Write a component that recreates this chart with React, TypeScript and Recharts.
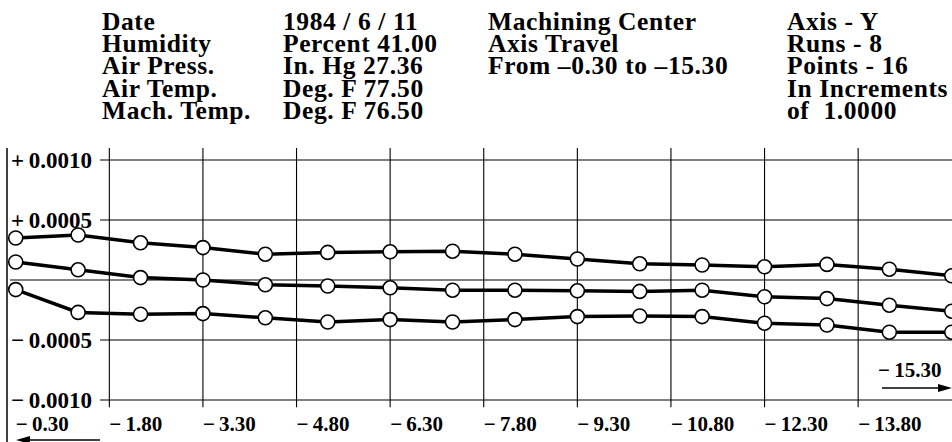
import React from "react"
import { LineChart, Line, XAxis, YAxis, ReferenceLine } from "recharts"

// axis travel positions (16 points, 1.0 apart)
const TRAVEL = [-0.3, -1.3, -2.3, -3.3, -4.3, -5.3, -6.3, -7.3, -8.3, -9.3, -10.3, -11.3, -12.3, -13.3, -14.3, -15.3]

// deviation per run (inches)
const RUN_UPPER = [0.00035, 0.000375, 0.00031, 0.00027, 0.000215, 0.00023, 0.000235, 0.00024, 0.000215, 0.000175, 0.000135, 0.000125, 0.00011, 0.00013, 0.00009, 0.000035]
const RUN_MIDDLE = [0.00015, 0.000085, 0.00002, 0, -0.00004, -0.00005, -0.000065, -0.000085, -0.000085, -0.00009, -0.000095, -0.000085, -0.00014, -0.000155, -0.00021, -0.00026]
const RUN_LOWER = [-0.00008, -0.00027, -0.000285, -0.00028, -0.000315, -0.00035, -0.00033, -0.00035, -0.00033, -0.000305, -0.0003, -0.000305, -0.00036, -0.000375, -0.000435, -0.000435]

const X_GRID = [-1.8, -3.3, -4.8, -6.3, -7.8, -9.3, -10.8, -12.3, -13.8]
const X_TICKS = [-0.3, ...X_GRID]
const Y_GRID = [0.001, 0.0005, -0.0005, -0.001]

const HEADER_LABELS = ["Date", "Humidity", "Air Press.", "Air Temp.", "Mach. Temp."]
const HEADER_VALUES = ["1984 / 6 / 11", "Percent 41.00", "In. Hg 27.36", "Deg. F 77.50", "Deg. F 76.50"]
const HEADER_MACHINE = ["Machining Center", "Axis Travel", "From \u20130.30 to \u201315.30"]
const HEADER_RUN = ["Axis - Y", "Runs - 8", "Points - 16", "In Increments", "of  1.0000"]

const FONT = "'Liberation Serif', 'Times New Roman', serif"
const X_MIN = -15.304
const X_MAX = -0.048

const data = TRAVEL.map((t, i) => ({
  travel: t,
  upper: RUN_UPPER[i],
  middle: RUN_MIDDLE[i],
  lower: RUN_LOWER[i],
}))

const fmtX = (v: number) => "\u2212\u2009" + Math.abs(v).toFixed(2)
const fmtY = (v: number) => (v > 0 ? "+" : "\u2212") + "\u2009" + Math.abs(v).toFixed(4)

const XTick = (props: any) => {
  const { x, y, payload } = props
  return (
    <text x={x} y={y + 24} textAnchor="start" fontFamily={FONT} fontWeight={700} fontSize={21} fill="#000">
      {fmtX(payload.value)}
    </text>
  )
}

const dotStyle = { r: 7, fill: "#fff", stroke: "#000", strokeWidth: 1.6 }

function HeaderColumn({ x, lines }: { x: number; lines: string[] }) {
  return (
    <>
      {lines.map((s, i) => (
        <text
          key={i}
          x={x}
          y={30 + i * 22.2}
          fontFamily={FONT}
          fontWeight={700}
          fontSize={25.5}
          letterSpacing={0.6}
          fill="#000"
          style={{ whiteSpace: "pre" }}
        >
          {s}
        </text>
      ))}
    </>
  )
}

export default function App() {
  return (
    <div style={{ position: "absolute", left: 0, top: 0, width: 952, height: 442, overflow: "hidden", background: "#fff" }}>
      <LineChart width={952} height={442} data={data} margin={{ top: 148, right: 0, bottom: 0, left: 0 }}>
        <XAxis
          dataKey="travel"
          type="number"
          domain={[X_MIN, X_MAX]}
          reversed
          allowDataOverflow
          ticks={X_TICKS}
          interval={0}
          tick={<XTick />}
          axisLine={false}
          tickLine={false}
          tickSize={0}
          tickMargin={0}
          height={34.8}
        />
        <YAxis hide type="number" domain={[-0.00106, 0.0011]} allowDataOverflow />

        {X_GRID.map((v) => (
          <ReferenceLine key={v} x={v} stroke="#000" strokeWidth={1.1} />
        ))}
        {Y_GRID.map((v) => (
          <ReferenceLine
            key={v}
            segment={[{ x: -1.65, y: v }, { x: X_MIN, y: v }]}
            stroke="#000"
            strokeWidth={1.1}
            label={{ value: fmtY(v), position: "left", offset: 8, fill: "#000", fontSize: 23, fontWeight: 700, fontFamily: FONT }}
          />
        ))}
        <ReferenceLine segment={[{ x: -0.208, y: 0 }, { x: X_MIN, y: 0 }]} stroke="#000" strokeWidth={1.1} />

        <Line type="linear" dataKey="upper" stroke="#000" strokeWidth={3.5} dot={dotStyle} activeDot={false} isAnimationActive={false} />
        <Line type="linear" dataKey="middle" stroke="#000" strokeWidth={3.5} dot={dotStyle} activeDot={false} isAnimationActive={false} />
        <Line type="linear" dataKey="lower" stroke="#000" strokeWidth={3.5} dot={dotStyle} activeDot={false} isAnimationActive={false} />
      </LineChart>

      <svg width={952} height={442} style={{ position: "absolute", left: 0, top: 0, pointerEvents: "none" }}>
        <HeaderColumn x={102} lines={HEADER_LABELS} />
        <HeaderColumn x={283} lines={HEADER_VALUES} />
        <HeaderColumn x={488} lines={HEADER_MACHINE} />
        <HeaderColumn x={787} lines={HEADER_RUN} />

        {/* frame edge on the left */}
        <line x1={7} y1={148} x2={7} y2={442} stroke="#000" strokeWidth={1.5} />

        {/* travel direction arrows */}
        <line x1={24} y1={440} x2={100} y2={440} stroke="#000" strokeWidth={1.5} />
        <polygon points="16,440 30,436 30,444" fill="#000" />
        <text x={878} y={377} fontFamily={FONT} fontWeight={700} fontSize={21} fill="#000">
          {"\u2212\u200915.30"}
        </text>
        <line x1={882} y1={388} x2={942} y2={388} stroke="#000" strokeWidth={1.5} />
        <polygon points="952,388 938,384 938,392" fill="#000" />
      </svg>
    </div>
  )
}
